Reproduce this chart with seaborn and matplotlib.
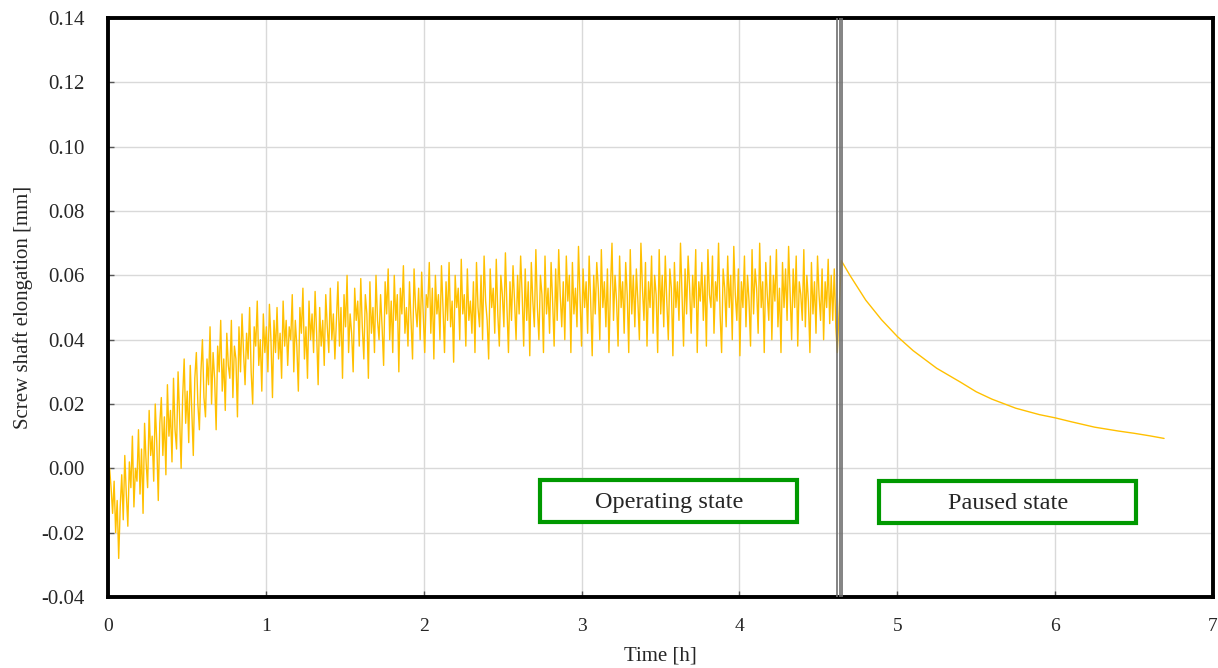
import numpy as np
import pandas as pd
import matplotlib
matplotlib.use("Agg")
import matplotlib.pyplot as plt
import matplotlib.patches as mpatches
import seaborn as sns

# operating state, elongation in mm (0 .. 4.62 h)
operating_mm = [
    0.000, 0.000, -0.006, -0.014, -0.004, -0.020, -0.010, -0.028, -0.012, -0.002,
    -0.016, 0.004, -0.008, -0.018, 0.002, -0.006, 0.010, -0.012, 0.000, -0.004,
    0.012, -0.008, 0.006, -0.014, 0.014, 0.002, -0.006, 0.018, 0.004, 0.010,
    -0.004, 0.020, 0.008, -0.010, 0.014, 0.022, 0.004, 0.016, -0.002, 0.026,
    0.010, 0.018, 0.002, 0.028, 0.012, 0.006, 0.030, 0.016, 0.000, 0.022,
    0.034, 0.014, 0.024, 0.008, 0.032, 0.018, 0.004, 0.028, 0.036, 0.020,
    0.012, 0.030, 0.040, 0.022, 0.016, 0.034, 0.026, 0.044, 0.020, 0.036,
    0.028, 0.012, 0.038, 0.030, 0.046, 0.024, 0.034, 0.018, 0.042, 0.032,
    0.028, 0.046, 0.022, 0.038, 0.034, 0.016, 0.044, 0.030, 0.048, 0.036,
    0.026, 0.042, 0.034, 0.050, 0.030, 0.020, 0.044, 0.038, 0.052, 0.032,
    0.040, 0.024, 0.048, 0.036, 0.044, 0.030, 0.051, 0.040, 0.022, 0.046,
    0.036, 0.050, 0.034, 0.042, 0.028, 0.052, 0.038, 0.046, 0.032, 0.044,
    0.040, 0.054, 0.030, 0.046, 0.038, 0.024, 0.050, 0.042, 0.056, 0.034,
    0.044, 0.028, 0.052, 0.040, 0.048, 0.036, 0.055, 0.042, 0.026, 0.050,
    0.038, 0.046, 0.032, 0.054, 0.044, 0.036, 0.056, 0.040, 0.048, 0.034,
    0.046, 0.058, 0.038, 0.050, 0.028, 0.054, 0.044, 0.060, 0.036, 0.048,
    0.042, 0.030, 0.056, 0.046, 0.052, 0.038, 0.059, 0.044, 0.034, 0.054,
    0.048, 0.028, 0.058, 0.042, 0.050, 0.036, 0.060, 0.046, 0.040, 0.054,
    0.044, 0.032, 0.058, 0.048, 0.062, 0.040, 0.052, 0.036, 0.060, 0.046,
    0.054, 0.030, 0.056, 0.048, 0.063, 0.042, 0.050, 0.038, 0.058, 0.046,
    0.034, 0.062, 0.050, 0.044, 0.056, 0.040, 0.061, 0.048, 0.036, 0.054,
    0.050, 0.064, 0.042, 0.056, 0.034, 0.060, 0.048, 0.054, 0.040, 0.063,
    0.050, 0.036, 0.058, 0.046, 0.064, 0.044, 0.052, 0.033, 0.060, 0.050,
    0.056, 0.040, 0.065, 0.048, 0.054, 0.038, 0.062, 0.046, 0.052, 0.042,
    0.058, 0.036, 0.064, 0.050, 0.044, 0.060, 0.040, 0.066, 0.052, 0.046,
    0.034, 0.062, 0.050, 0.056, 0.042, 0.065, 0.048, 0.038, 0.060, 0.054,
    0.044, 0.067, 0.050, 0.036, 0.058, 0.046, 0.063, 0.052, 0.040, 0.060,
    0.048, 0.066, 0.054, 0.038, 0.062, 0.046, 0.058, 0.035, 0.064, 0.052,
    0.044, 0.068, 0.050, 0.040, 0.060, 0.054, 0.036, 0.066, 0.048, 0.056,
    0.042, 0.064, 0.052, 0.038, 0.062, 0.046, 0.068, 0.054, 0.044, 0.058,
    0.040, 0.066, 0.052, 0.060, 0.036, 0.064, 0.048, 0.056, 0.044, 0.069,
    0.054, 0.038, 0.062, 0.050, 0.058, 0.042, 0.066, 0.052, 0.035, 0.060,
    0.048, 0.064, 0.056, 0.040, 0.068, 0.050, 0.058, 0.044, 0.062, 0.036,
    0.056, 0.070, 0.046, 0.060, 0.052, 0.038, 0.066, 0.050, 0.058, 0.042,
    0.064, 0.054, 0.036, 0.068, 0.048, 0.060, 0.044, 0.062, 0.052, 0.040,
    0.070, 0.056, 0.046, 0.064, 0.038, 0.058, 0.050, 0.066, 0.042, 0.060,
    0.054, 0.036, 0.068, 0.048, 0.060, 0.044, 0.066, 0.052, 0.040, 0.062,
    0.056, 0.035, 0.064, 0.050, 0.058, 0.046, 0.070, 0.054, 0.038, 0.062,
    0.048, 0.066, 0.056, 0.042, 0.060, 0.050, 0.068, 0.036, 0.058, 0.052,
    0.064, 0.046, 0.060, 0.038, 0.068, 0.054, 0.050, 0.066, 0.042, 0.058,
    0.052, 0.070, 0.048, 0.036, 0.062, 0.056, 0.044, 0.066, 0.050, 0.060,
    0.040, 0.069, 0.054, 0.046, 0.062, 0.035, 0.058, 0.050, 0.066, 0.044,
    0.060, 0.052, 0.038, 0.068, 0.048, 0.062, 0.056, 0.042, 0.070, 0.050,
    0.058, 0.036, 0.064, 0.054, 0.046, 0.066, 0.040, 0.060, 0.052, 0.068,
    0.044, 0.056, 0.036, 0.064, 0.050, 0.062, 0.046, 0.069, 0.054, 0.040,
    0.062, 0.050, 0.066, 0.038, 0.058, 0.054, 0.046, 0.068, 0.044, 0.060,
    0.052, 0.036, 0.064, 0.048, 0.058, 0.042, 0.066, 0.054, 0.046, 0.062,
    0.040, 0.058, 0.050, 0.065, 0.045, 0.060, 0.046, 0.062, 0.044, 0.036,
]
operating_end_h = 4.62

# paused state (cooling)
paused_h = [4.645, 4.70, 4.80, 4.90, 5.00, 5.10, 5.25, 5.40, 5.50, 5.60,
            5.75, 5.90, 6.00, 6.10, 6.25, 6.40, 6.50, 6.60, 6.69]
paused_mm = [0.0646, 0.0600, 0.0523, 0.0462, 0.0410, 0.0366, 0.0311, 0.0268, 0.0238, 0.0215,
             0.0187, 0.0167, 0.0157, 0.0145, 0.0128, 0.0116, 0.0109, 0.0101, 0.0093]

state_switch_h = [4.616, 4.634, 4.652]
box_labels = ["Operating state", "Paused state"]
box_x = [(2.738, 4.366), (4.886, 6.515)]
box_y = [(-0.0167, -0.0036), (-0.0170, -0.0039)]

op_h = np.linspace(0, operating_end_h, len(operating_mm))
df = pd.DataFrame({
    "time": np.concatenate([op_h, paused_h]),
    "elong": np.concatenate([operating_mm, paused_mm]),
})

sns.set_theme(style="ticks")
plt.rcParams["font.family"] = ["Liberation Serif", "DejaVu Serif"]

fig = plt.figure(figsize=(12.18, 6.68), dpi=100)
ax = fig.add_axes([0.0887, 0.1063, 0.9072, 0.8667])

ax.grid(True, color="#d9d9d9", linewidth=1.0)
ax.set_axisbelow(True)

sns.lineplot(data=df, x="time", y="elong", color="#FFC000", linewidth=1.0,
             ax=ax, estimator=None, sort=False)

for xv in state_switch_h:
    ax.axvline(xv, color="#6e6e6e", linewidth=1.2, zorder=3)

for lab, (x0, x1), (y0, y1) in zip(box_labels, box_x, box_y):
    ax.add_patch(mpatches.Rectangle((x0, y0), x1 - x0, y1 - y0, fc="white",
                                    ec="#009900", lw=3, zorder=5))
    ax.text((x0 + x1) / 2, (y0 + y1) / 2 - 0.0004, lab, ha="center", va="center",
            fontsize=17.5, zorder=6)

ax.set_xlim(0, 7)
ax.set_ylim(-0.04, 0.14)
ax.set_xticks(range(0, 8))
ax.set_yticks(np.arange(-0.04, 0.141, 0.02))
ax.yaxis.set_major_formatter(matplotlib.ticker.FormatStrFormatter("%.2f"))
ax.tick_params(direction="in", length=4, width=1, labelsize=14, color="#555555")
ax.tick_params(axis="y", labelsize=15, pad=17)
ax.tick_params(axis="x", pad=15)

for s in ax.spines.values():
    s.set_linewidth(2.8)
    s.set_color("black")

ax.set_xlabel("Time [h]", fontsize=15)
ax.set_ylabel("Screw shaft elongation [mm]", fontsize=15)
ax.xaxis.set_label_coords(0.5, -0.085)
ax.yaxis.set_label_coords(-0.068, 0.5)

fig.savefig("out.png", dpi=100)
